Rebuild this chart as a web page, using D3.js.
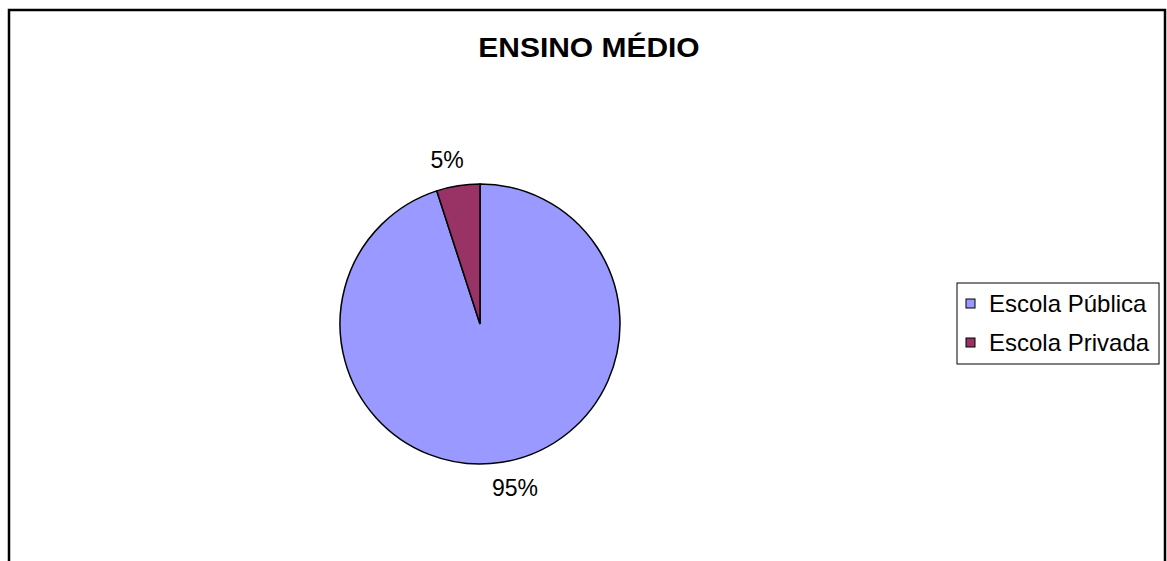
<!DOCTYPE html>
<meta charset="utf-8">
<script src="https://d3js.org/d3.v7.min.js"></script>
<style>
  body { margin: 0; background: #fff; }
  text { font-family: "Liberation Sans", Arial, sans-serif; fill: #000; }
</style>
<div id="chart"></div>
<script>
// data
var categories = ["Escola Pública", "Escola Privada"];
var values = [95, 5];
var labels = ["95%", "5%"];
var colors = ["#9999FF", "#993366"];
var title = "ENSINO MÉDIO";

var width = 1167, height = 561;

var svg = d3.select("#chart").append("svg")
    .attr("width", width)
    .attr("height", height);

// outer frame (bottom edge falls outside the picture)
svg.append("rect")
    .attr("x", 9).attr("y", 10)
    .attr("width", 1156).attr("height", 600)
    .attr("fill", "none")
    .attr("stroke", "#000")
    .attr("stroke-width", 2.5);

// title
svg.append("text")
    .attr("transform", "translate(589,57) scale(1.07,1)")
    .attr("text-anchor", "middle")
    .style("font-size", "28px")
    .style("font-weight", "bold")
    .text(title);

// pie
var cx = 480, cy = 324, r = 140;
var data = categories.map(function(c, i) { return {name: c, value: values[i], label: labels[i], color: colors[i]}; });

var pie = d3.pie().sort(null).value(function(d) { return d.value; });
var arc = d3.arc().innerRadius(0).outerRadius(r);
var labelArc = d3.arc().innerRadius(166).outerRadius(166);

var g = svg.append("g").attr("transform", "translate(" + cx + "," + cy + ")");

g.selectAll("path")
  .data(pie(data))
  .enter().append("path")
    .attr("d", arc)
    .attr("fill", function(d) { return d.data.color; })
    .attr("stroke", "#000")
    .attr("stroke-width", 1.5);

g.selectAll("text")
  .data(pie(data))
  .enter().append("text")
    .attr("x", function(d) { var c = labelArc.centroid(d); return c[0] + (c[0] < 0 ? -7 : 9); })
    .attr("y", function(d) { return labelArc.centroid(d)[1]; })
    .attr("dy", "0.35em")
    .attr("text-anchor", "middle")
    .style("font-size", "23px")
    .text(function(d) { return d.data.label; });

// legend
var legend = svg.append("g").attr("transform", "translate(957,283)");
legend.append("rect")
    .attr("width", 202).attr("height", 81)
    .attr("fill", "#fff")
    .attr("stroke", "#000")
    .attr("stroke-width", 1);

var items = legend.selectAll("g.item")
  .data(data)
  .enter().append("g")
    .attr("class", "item")
    .attr("transform", function(d, i) { return "translate(0," + (i * 39) + ")"; });

items.append("rect")
    .attr("x", 9).attr("y", 16)
    .attr("width", 9).attr("height", 9)
    .attr("fill", function(d) { return d.color; })
    .attr("stroke", "#000")
    .attr("stroke-width", 1);

items.append("text")
    .attr("x", 32).attr("y", 29)
    .style("font-size", "24px")
    .text(function(d) { return d.name; });
</script>
